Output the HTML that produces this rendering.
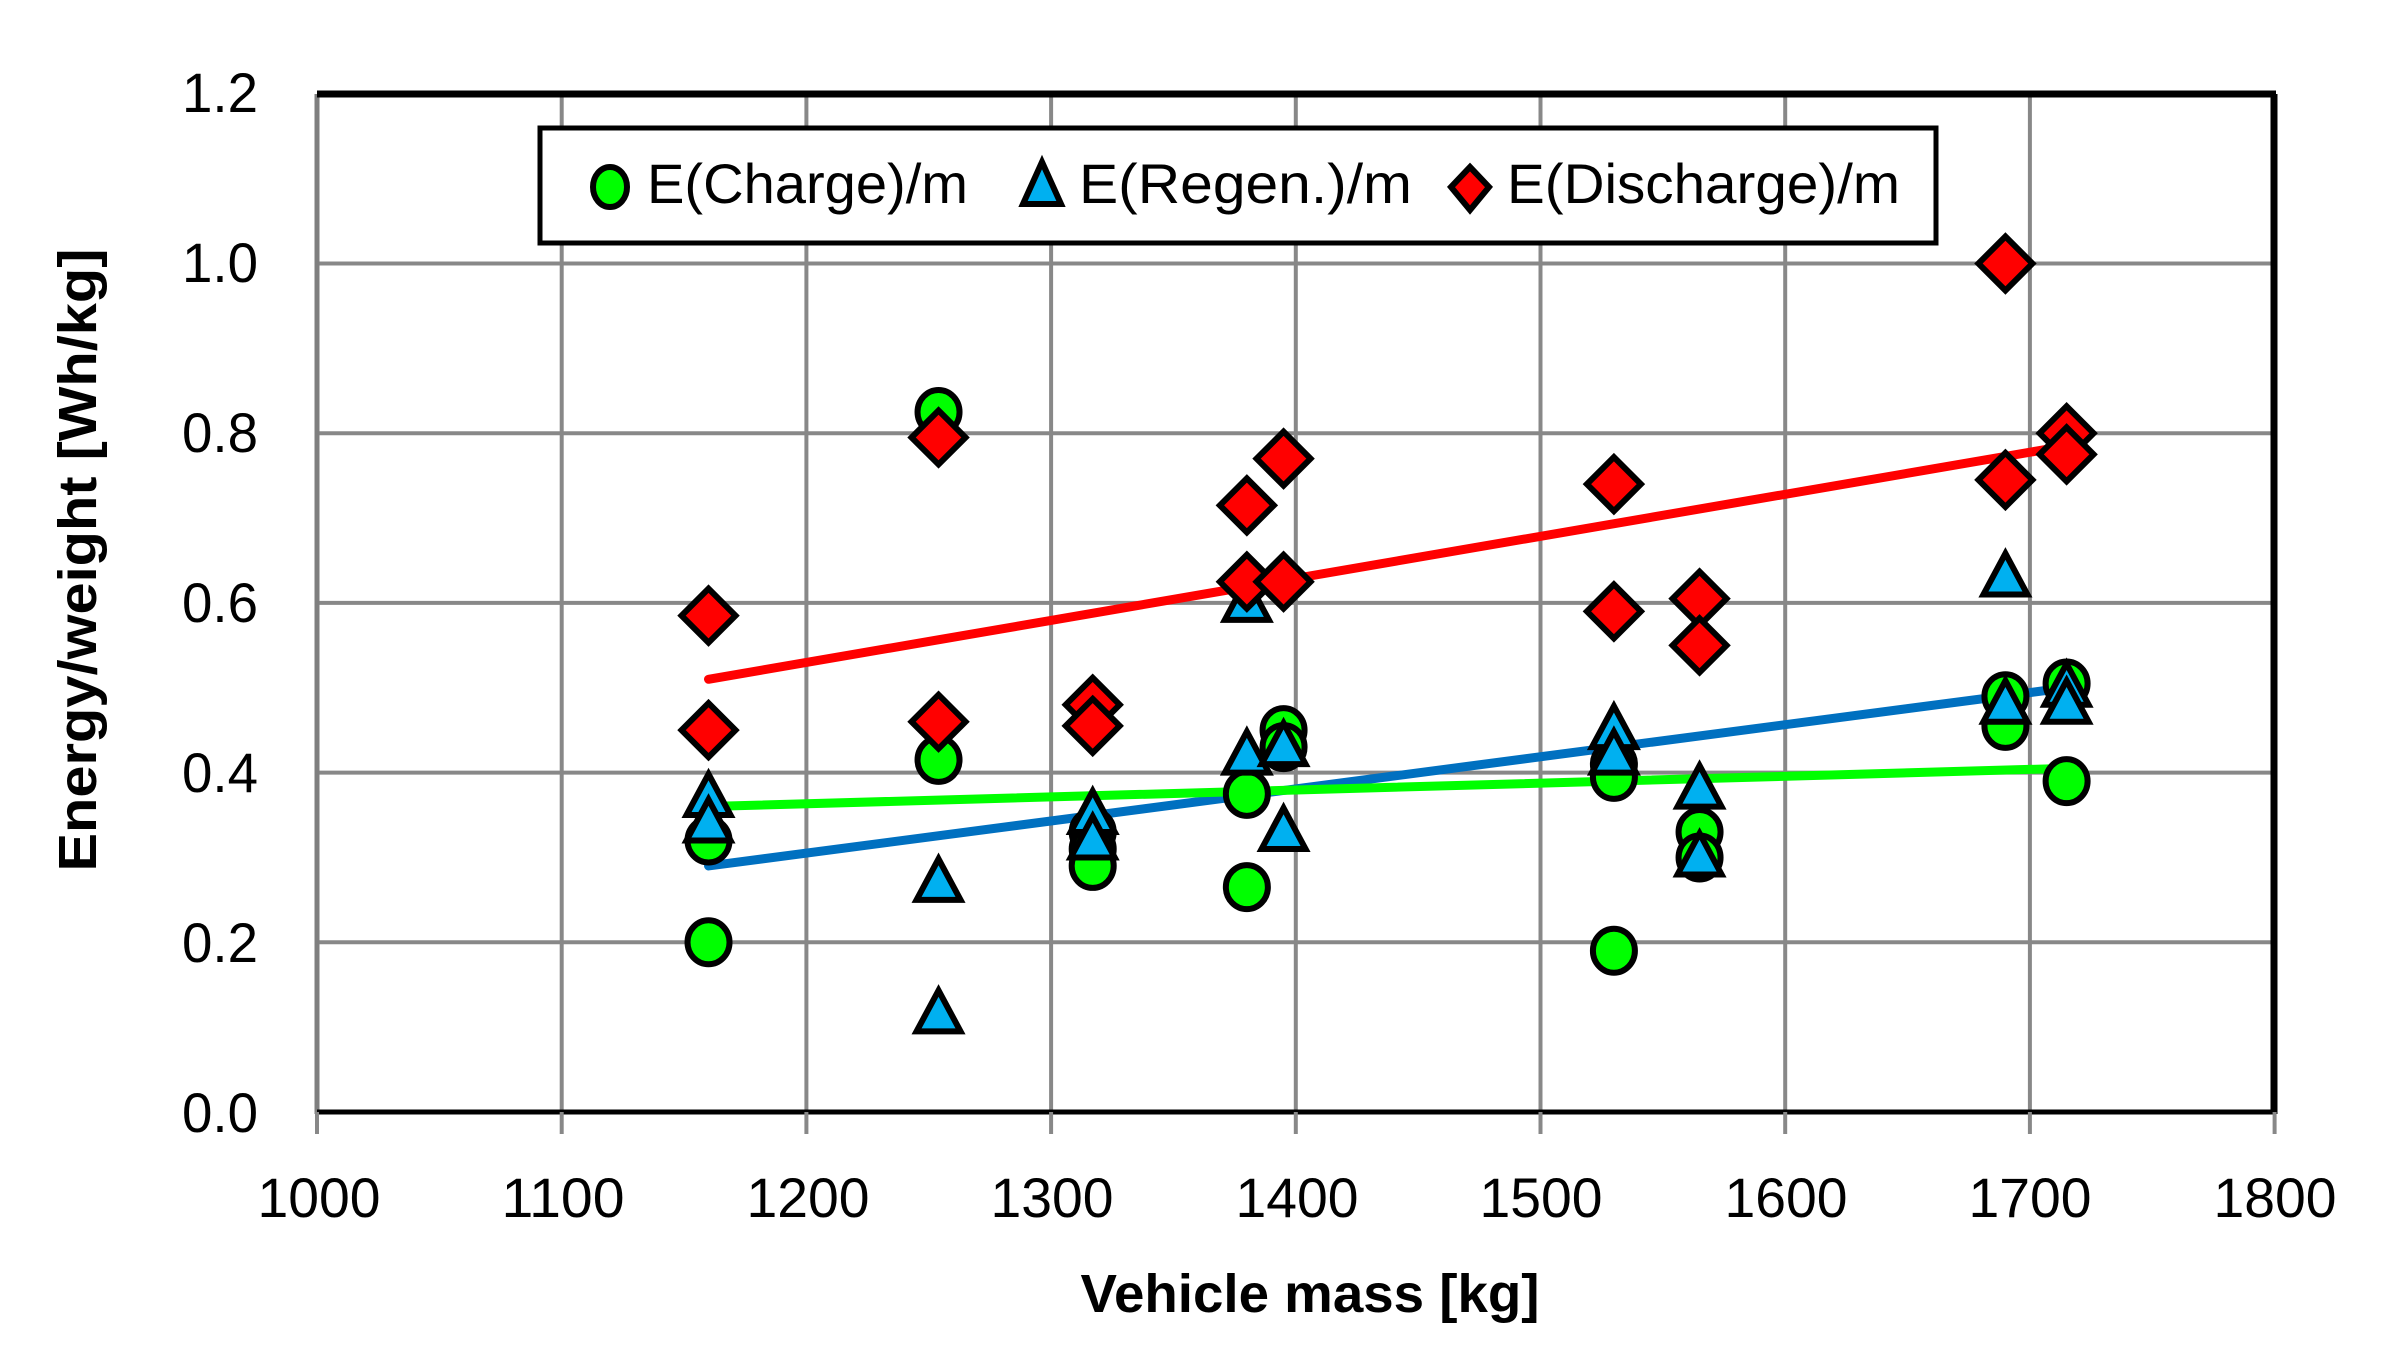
<!DOCTYPE html>
<html><head><meta charset="utf-8"><style>
html,body{margin:0;padding:0;background:#fff;}
svg{display:block;}
text{font-family:"Liberation Sans",sans-serif;fill:#000;}
</style></head><body>
<svg id="s" width="2405" height="1364" viewBox="0 0 2405 1364" xmlns="http://www.w3.org/2000/svg">
<rect width="2405" height="1364" fill="#fff"/>
<g id="grid" stroke="#888" stroke-width="4"></g>
<!-- axes -->
<line x1="317" y1="94" x2="317" y2="1114" stroke="#7f7f7f" stroke-width="5"/>
<line x1="317" y1="1112" x2="2274" y2="1112" stroke="#000" stroke-width="5"/>
<line x1="317" y1="94" x2="2276" y2="94" stroke="#000" stroke-width="7"/>
<line x1="2274" y1="94" x2="2274" y2="1114" stroke="#000" stroke-width="7"/>
<g id="ticks" stroke="#888" stroke-width="4"></g>
<g id="lines" stroke-width="9" stroke-linecap="round"></g>
<g id="marks" stroke="#000" stroke-width="6" stroke-linejoin="miter"></g>
<!-- legend -->
<rect x="540" y="128" width="1396" height="115" fill="#fff" stroke="#000" stroke-width="5"/>
<ellipse cx="610" cy="187" rx="17" ry="20" fill="#00ff00" stroke="#000" stroke-width="6"/>
<polygon points="1042,162 1061,204 1023,204" fill="#00b0f0" stroke="#000" stroke-width="6"/>
<polygon points="1470,167 1489,187 1470,210 1451,187" fill="#ff0000" stroke="#000" stroke-width="6"/>
<text x="647" y="203" font-size="56" textLength="321" lengthAdjust="spacingAndGlyphs">E(Charge)/m</text>
<text x="1079" y="203" font-size="56" textLength="333" lengthAdjust="spacingAndGlyphs">E(Regen.)/m</text>
<text x="1507" y="203" font-size="56" textLength="393" lengthAdjust="spacingAndGlyphs">E(Discharge)/m</text>
<!-- y tick labels -->
<g font-size="56" text-anchor="end">
<text x="258" y="112" textLength="76" lengthAdjust="spacingAndGlyphs">1.2</text>
<text x="258" y="282" textLength="76" lengthAdjust="spacingAndGlyphs">1.0</text>
<text x="258" y="452" textLength="76" lengthAdjust="spacingAndGlyphs">0.8</text>
<text x="258" y="622" textLength="76" lengthAdjust="spacingAndGlyphs">0.6</text>
<text x="258" y="792" textLength="76" lengthAdjust="spacingAndGlyphs">0.4</text>
<text x="258" y="962" textLength="76" lengthAdjust="spacingAndGlyphs">0.2</text>
<text x="258" y="1132" textLength="76" lengthAdjust="spacingAndGlyphs">0.0</text>
</g>
<g font-size="56" text-anchor="middle">
<text x="319" y="1217" textLength="123" lengthAdjust="spacingAndGlyphs">1000</text>
<text x="563" y="1217" textLength="123" lengthAdjust="spacingAndGlyphs">1100</text>
<text x="808" y="1217" textLength="123" lengthAdjust="spacingAndGlyphs">1200</text>
<text x="1052" y="1217" textLength="123" lengthAdjust="spacingAndGlyphs">1300</text>
<text x="1297" y="1217" textLength="123" lengthAdjust="spacingAndGlyphs">1400</text>
<text x="1541" y="1217" textLength="123" lengthAdjust="spacingAndGlyphs">1500</text>
<text x="1786" y="1217" textLength="123" lengthAdjust="spacingAndGlyphs">1600</text>
<text x="2030" y="1217" textLength="123" lengthAdjust="spacingAndGlyphs">1700</text>
<text x="2275" y="1217" textLength="123" lengthAdjust="spacingAndGlyphs">1800</text>
</g>
<text x="1310" y="1312" font-size="54" font-weight="bold" text-anchor="middle" textLength="459" lengthAdjust="spacingAndGlyphs">Vehicle mass [kg]</text>
<text transform="translate(96,560) rotate(-90)" font-size="54" font-weight="bold" text-anchor="middle" textLength="623" lengthAdjust="spacingAndGlyphs">Energy/weight [Wh/kg]</text>
</svg>
<script>
var NS="http://www.w3.org/2000/svg";
function X(v){return 317+(v-1000)*2.447;}
function Y(v){return 1112-v*848.5;}
function el(p,t,a){var e=document.createElementNS(NS,t);for(var k in a)e.setAttribute(k,a[k]);document.getElementById(p).appendChild(e);return e;}
for(var i=1;i<8;i++){var x=X(1000+i*100);el("grid","line",{x1:x,y1:94,x2:x,y2:1112});}
for(var j=1;j<6;j++){var y=Y(j*0.2);el("grid","line",{x1:317,y1:y,x2:2274,y2:y});}
for(var i=0;i<=8;i++){var x=X(1000+i*100);el("ticks","line",{x1:x,y1:1112,x2:x,y2:1134});}
el("lines","line",{x1:X(1160),y1:Y(0.51),x2:X(1715),y2:Y(0.785),stroke:"#ff0000"});
el("lines","line",{x1:X(1160),y1:Y(0.29),x2:X(1715),y2:Y(0.50),stroke:"#0070c0"});
el("lines","line",{x1:X(1160),y1:Y(0.36),x2:X(1715),y2:Y(0.405),stroke:"#00ff00"});
var C=[[1160,.32],[1160,.20],[1254,.825],[1254,.415],[1317,.33],[1317,.31],[1317,.29],[1380,.375],[1380,.265],[1395,.45],[1395,.43],[1530,.41],[1530,.395],[1530,.19],[1565,.33],[1565,.30],[1690,.49],[1690,.455],[1715,.505],[1715,.39]];
var R=[[1160,.37],[1160,.34],[1254,.27],[1254,.115],[1317,.35],[1317,.32],[1380,.6],[1380,.42],[1395,.43],[1395,.33],[1530,.45],[1530,.42],[1565,.38],[1565,.30],[1690,.63],[1690,.48],[1715,.50],[1715,.48]];
var D=[[1160,.585],[1160,.45],[1254,.795],[1254,.46],[1317,.48],[1317,.455],[1380,.715],[1380,.625],[1395,.77],[1395,.625],[1530,.74],[1530,.59],[1565,.605],[1565,.55],[1690,1.0],[1690,.745],[1715,.80],[1715,.775]];
C.forEach(function(p){el("marks","ellipse",{cx:X(p[0]),cy:Y(p[1]),rx:21,ry:22,fill:"#00ff00"});});
R.forEach(function(p){var x=X(p[0]),y=Y(p[1]);el("marks","polygon",{points:(x)+","+(y-24)+" "+(x+22)+","+(y+17)+" "+(x-22)+","+(y+17),fill:"#00b0f0"});});
D.forEach(function(p){var x=X(p[0]),y=Y(p[1]);el("marks","polygon",{points:x+","+(y-27)+" "+(x+27)+","+y+" "+x+","+(y+27)+" "+(x-27)+","+y,fill:"#ff0000"});});
</script>
</body></html>
